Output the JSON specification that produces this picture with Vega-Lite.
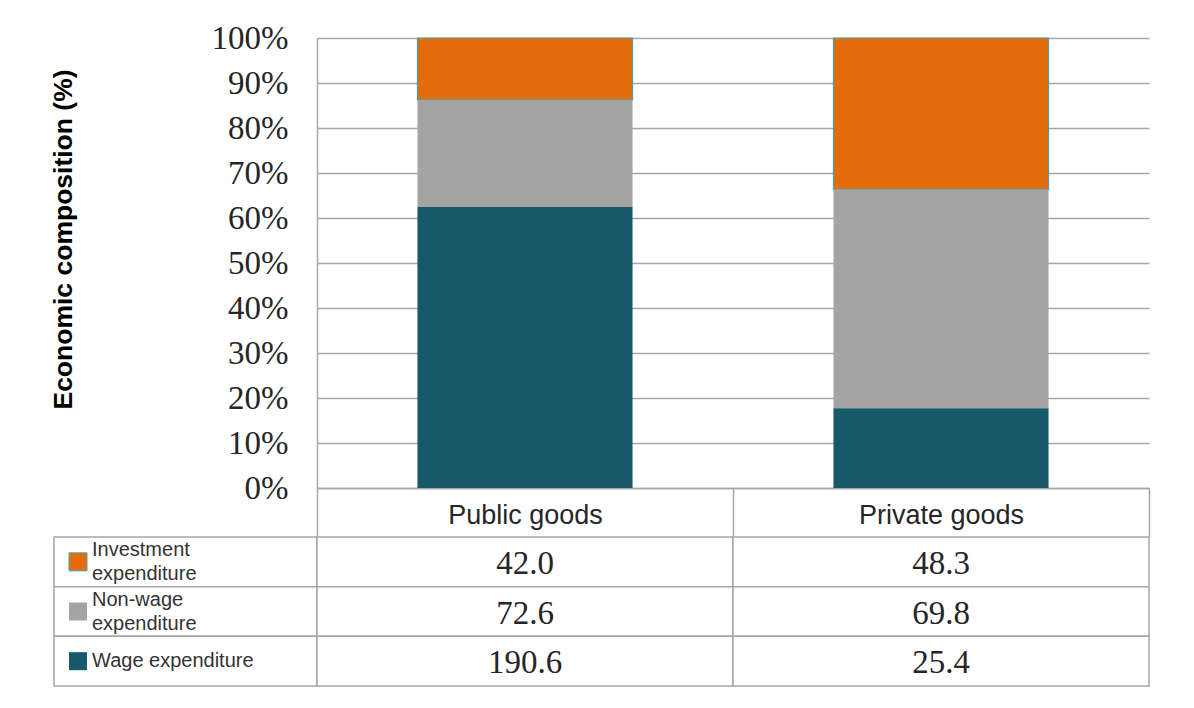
{
  "$schema": "https://vega.github.io/schema/vega-lite/v6.json",
  "background": "white",
  "padding": {"left": 50, "top": 22, "right": 10, "bottom": 10},
  "config": {"view": {"stroke": null}, "font": "Liberation Sans"},
  "datasets": {
    "spend": [
      {"goods": "Public goods", "component": "Investment expenditure", "value": 42.0},
      {"goods": "Public goods", "component": "Non-wage expenditure", "value": 72.6},
      {"goods": "Public goods", "component": "Wage expenditure", "value": 190.6},
      {"goods": "Private goods", "component": "Investment expenditure", "value": 48.3},
      {"goods": "Private goods", "component": "Non-wage expenditure", "value": 69.8},
      {"goods": "Private goods", "component": "Wage expenditure", "value": 25.4}
    ]
  },
  "columns": 2,
  "align": "each",
  "bounds": "flush",
  "spacing": {"row": 49, "column": 0},
  "concat": [
    {
      "width": 1, "height": 1,
      "data": {"values": [{}]},
      "mark": {"type": "point", "opacity": 0},
      "encoding": {}
    },
    {
      "width": 832, "height": 450,
      "data": {"name": "spend"},
      "mark": {"type": "bar", "strokeWidth": 1.2, "width": {"band": 0.517}},
      "encoding": {
        "x": {
          "field": "goods", "type": "nominal",
          "sort": ["Public goods", "Private goods"],
          "scale": {"paddingInner": 0, "paddingOuter": 0},
          "axis": {
            "title": null, "labelAngle": 0,
            "tickBand": "extent", "tickSize": 49, "tickColor": "#a6a6a6", "tickWidth": 1.5,
            "domainColor": "#a6a6a6", "domainWidth": 1.5,
            "labelPadding": -35, "labelBaseline": "top",
            "labelFont": "Liberation Sans", "labelFontSize": 27, "labelColor": "#262626"
          }
        },
        "y": {
          "field": "value", "type": "quantitative", "stack": "normalize",
          "scale": {"domain": [0, 1]},
          "axis": {
            "title": "Economic composition (%)",
            "format": ".0%",
            "values": [0, 0.1, 0.2, 0.3, 0.4, 0.5, 0.6, 0.7, 0.8, 0.9, 1],
            "grid": true, "gridColor": "#a6a6a6", "gridWidth": 1.5,
            "ticks": false, "tickSize": 0,
            "domainColor": "#a6a6a6", "domainWidth": 1.5,
            "labelPadding": 29,
            "labelFont": "Liberation Serif", "labelFontSize": 33, "labelColor": "#262626",
            "titleFont": "Liberation Sans", "titleFontSize": 26.5, "titleFontWeight": "bold", "titleColor": "#000000",
            "titlePadding": 134, "titleY": 201
          }
        },
        "color": {
          "field": "component", "type": "nominal",
          "scale": {
            "domain": ["Investment expenditure", "Non-wage expenditure", "Wage expenditure"],
            "range": ["#E46C0A", "#A4A4A4", "#17596A"]
          },
          "legend": null
        },
        "order": {"field": "component", "sort": "descending"},
        "stroke": {
          "condition": {"test": "datum.component == 'Investment expenditure'", "value": "#4A9FB3"},
          "value": null
        }
      }
    },
    {
      "width": 263, "height": 149,
      "data": {"name": "spend"},
      "transform": [
        {"filter": "datum.goods == 'Public goods'"},
        {"calculate": "datum.component == 'Wage expenditure' ? datum.component : replace(datum.component, ' ', '\\n')", "as": "label"}
      ],
      "encoding": {
        "y": {
          "field": "component", "type": "nominal",
          "sort": ["Investment expenditure", "Non-wage expenditure", "Wage expenditure"],
          "scale": {"paddingInner": 0, "paddingOuter": 0},
          "axis": null
        }
      },
      "layer": [
        {
          "mark": {"type": "rect", "fill": "white", "stroke": "#a6a6a6", "strokeWidth": 1.5},
          "encoding": {"x": {"value": 0}, "x2": {"value": "width"}}
        },
        {
          "mark": {"type": "point", "shape": "square", "filled": true, "size": 324, "opacity": 1, "strokeWidth": 1},
          "encoding": {
            "x": {"value": 24},
            "color": {"field": "component", "type": "nominal", "legend": null},
            "stroke": {
              "condition": {"test": "datum.component == 'Investment expenditure'", "value": "#4A9FB3"},
              "value": null
            }
          }
        },
        {
          "transform": [{"filter": "datum.component != 'Wage expenditure'"}],
          "mark": {"type": "text", "align": "left", "baseline": "middle", "dy": -12, "lineBreak": "\n", "lineHeight": 24, "font": "Liberation Sans", "fontSize": 20, "color": "#333333"},
          "encoding": {"x": {"value": 38}, "text": {"field": "label", "type": "nominal"}}
        },
        {
          "transform": [{"filter": "datum.component == 'Wage expenditure'"}],
          "mark": {"type": "text", "align": "left", "baseline": "middle", "font": "Liberation Sans", "fontSize": 20, "color": "#333333"},
          "encoding": {"x": {"value": 38}, "text": {"field": "label", "type": "nominal"}}
        }
      ]
    },
    {
      "width": 832, "height": 149,
      "data": {"name": "spend"},
      "encoding": {
        "x": {
          "field": "goods", "type": "nominal",
          "sort": ["Public goods", "Private goods"],
          "scale": {"paddingInner": 0, "paddingOuter": 0},
          "axis": null
        },
        "y": {
          "field": "component", "type": "nominal",
          "sort": ["Investment expenditure", "Non-wage expenditure", "Wage expenditure"],
          "scale": {"paddingInner": 0, "paddingOuter": 0},
          "axis": null
        }
      },
      "layer": [
        {"mark": {"type": "rect", "fill": "white", "stroke": "#a6a6a6", "strokeWidth": 1.5}},
        {
          "mark": {"type": "text", "font": "Liberation Serif", "fontSize": 33, "color": "#262626", "baseline": "middle", "dy": 2},
          "encoding": {"text": {"field": "value", "type": "quantitative", "format": ".1f"}}
        }
      ]
    }
  ]
}
